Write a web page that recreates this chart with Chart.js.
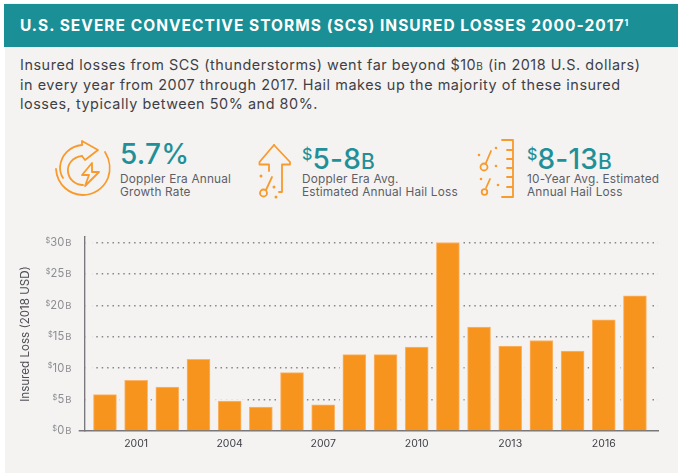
<!DOCTYPE html>
<html><head><meta charset="utf-8">
<script src="https://cdn.jsdelivr.net/npm/chart.js@4"></script>
<style>
html,body{margin:0;padding:0;background:#fff}
#page{position:relative;width:678px;height:474px;overflow:hidden;font-family:"Open Sans",sans-serif}
#panel{position:absolute;left:5px;top:3px;width:673px;height:470px;background:#f4f3f2}
#head{position:absolute;left:4px;top:4px;width:674px;height:43px;background:#1a8f96}
.t{position:absolute;white-space:nowrap}
#title{left:20px;top:16px;color:#fff;font:700 15.5px/20px "Inter";letter-spacing:1.03px}
#title sup{font-size:8.5px;line-height:0;vertical-align:5px;letter-spacing:0}
.body{left:20px;color:#3f3f46;font:400 14.4px/18px "Inter";letter-spacing:.55px}
.big{color:#1f9097;font:500 28px/30px "Inter";letter-spacing:.2px}
.big i{font-style:normal;font-size:16px;vertical-align:9px}
.big b{font-weight:500;font-size:21px}
.sm{color:#5d5e68;font:400 11.8px/13.5px "Inter";letter-spacing:.2px}
svg.ic{position:absolute;fill:none;stroke:#f89a2c;stroke-width:1.8;stroke-linecap:round;stroke-linejoin:round}
svg.ic .d{fill:#f89a2c;stroke:none}
#cv{position:absolute;left:0;top:215px}
</style></head><body>
<div id="page">
<div id="panel"></div><div id="head"></div>
<div class="t" id="title">U.S. SEVERE CONVECTIVE STORMS (SCS) INSURED LOSSES 2000-2017<sup>1</sup></div>
<div class="t body" style="top:56px">Insured losses from SCS (thunderstorms) went far beyond $10<span style="font-size:10px">B</span> (in 2018 U.S. dollars)</div>
<div class="t body" style="top:75.5px">in every year from 2007 through 2017. Hail makes up the majority of these insured</div>
<div class="t body" style="top:94.5px">losses, typically between 50% and 80%.</div>

<svg class="ic" style="left:50px;top:135px" width="70" height="70" viewBox="0 0 70 70">
<path d="M32 10V6L48 15L35 25L32 21"/>
<path d="M32 10C20 11 11 20 10 32C10 36 11 40 13 43"/>
<path d="M32 21C22 22 17 30 18 37C19 45 26 50 33 50"/>
<path d="M55 17C60 25 61 35 58 43C53 55 42 60 33 60C20 60 7 50 6 34"/>
<path d="M42 28L32 40H39L35 51L49 37H42Z"/>
</svg>
<div class="t big" style="left:120px;top:139px">5.7%</div>
<div class="t sm" style="left:120px;top:173px">Doppler Era Annual</div>
<div class="t sm" style="left:120px;top:186px">Growth Rate</div>

<svg class="ic" style="left:250px;top:135px" width="70" height="70" viewBox="0 0 70 70">
<path d="M24 10L9.5 27V29.500H19V36"/><path d="M24 10L40 27V29.500H32V57H29"/>
<path d="M16 55L22 42"/><circle cx="13.500" cy="58" r="3.500"/>
<circle class="d" cx="11" cy="41" r="1.500"/><circle class="d" cx="24" cy="52" r="1.500"/><circle class="d" cx="26" cy="62" r="1.500"/>
</svg>
<div class="t big" style="left:302px;top:139px"><i>$</i>5-8<b>B</b></div>
<div class="t sm" style="left:302px;top:173px">Doppler Era Avg.</div>
<div class="t sm" style="left:302px;top:186px">Estimated Annual Hail Loss</div>

<svg class="ic" style="left:470px;top:135px" width="60" height="70" viewBox="0 0 60 70">
<path d="M32 5H43V62H32M37 15H43M37 24H43M37 33H43M37 42H43M37 52H43"/>
<path d="M21 16L15.500 29"/><circle cx="14" cy="32" r="3.500"/><path d="M20 44L16 53"/><circle cx="14.500" cy="57" r="2.800"/>
<circle class="d" cx="9" cy="20" r="1.300"/><circle class="d" cx="26" cy="13" r="1.300"/><circle class="d" cx="26" cy="31" r="1.300"/><circle class="d" cx="11" cy="44" r="1.300"/><circle class="d" cx="28" cy="50" r="1.300"/>
</svg>
<div class="t big" style="left:527px;top:139px"><i>$</i>8-13<b>B</b></div>
<div class="t sm" style="left:527px;top:173px">10-Year Avg. Estimated</div>
<div class="t sm" style="left:527px;top:186px">Annual Hail Loss</div>

<canvas id="cv" width="678" height="259"></canvas>
</div>
<script>
const years = [2000,2001,2002,2003,2004,2005,2006,2007,2008,2009,2010,2011,2012,2013,2014,2015,2016,2017];
const losses = [5.8,8.05,7.0,11.4,4.75,3.8,9.3,4.15,12.15,12.15,13.35,30,16.55,13.5,14.4,12.7,17.7,21.5];
const yTicks = [0,5,10,15,20,25,30];
const xTicks = [2001,2004,2007,2010,2013,2016];
const axisTitle = 'Insured Loss (2018 USD)';
const bg = '#f4f3f2';

const decor = {
  id:'decor',
  beforeDatasetsDraw(c){
    const g=c.ctx,a=c.chartArea;
    g.save();g.fillStyle=bg;
    g.fillRect(a.left+1,a.top,7,a.bottom-a.top-1);
    c.getDatasetMeta(0).data.forEach(b=>{
      g.fillRect(b.x-b.width/2-3,b.y-2,b.width+6,a.bottom-b.y+1);
    });
    g.restore();
  },
  afterDraw(c){
    const g=c.ctx,s=c.scales.y;
    g.save();g.fillStyle='#8d8d92';g.textBaseline='middle';
    yTicks.forEach(v=>{
      const y=s.getPixelForValue(v);
      g.textAlign='left';g.font='9.5px "Inter"';
      g.fillText('B',65.2,y+0.5);
      g.font='11.2px "Inter"';
      const n=g.measureText(String(v)).width;
      g.textAlign='right';g.font='7.5px "Inter"';
      g.fillText('$',64.2-n,y-2);
    });
    g.restore();
  }
};

new Chart(document.getElementById('cv'),{
  type:'bar',
  data:{datasets:[{
    data:years.map((y,i)=>({x:y,y:losses[i]})),
    backgroundColor:'#f7941e',borderColor:'#fbb56a',borderWidth:{top:1,left:1,right:1,bottom:0},
    barThickness:23,borderSkipped:'bottom'
  }]},
  options:{
    responsive:false,animation:false,
    layout:{autoPadding:false,padding:{left:0,right:20,top:22,bottom:17}},
    plugins:{legend:{display:false},tooltip:{enabled:false}},
    scales:{
      x:{type:'linear',offset:false,min:1999.35,max:2017.74,
        afterBuildTicks(s){s.ticks=xTicks.map(v=>({value:v}))},
        grid:{display:false,drawTicks:false},
        border:{display:true,color:'#77777c',width:1.5},
        ticks:{autoSkip:false,maxRotation:0,color:'#3f3f46',font:{family:'Inter',size:10.5},padding:6.7,callback:v=>String(v)}
      },
      y:{min:0,max:30.87,
        afterBuildTicks(s){s.ticks=yTicks.map(v=>({value:v}))},
        afterFit(s){s.width=84.7},
        grid:{color:c=>c.tick&&c.tick.value>0?'#85858a':'rgba(0,0,0,0)',lineWidth:1.5,
          tickBorderDash:[0,0],tickLength:6,tickColor:c=>c.tick&&c.tick.value===0?'#77777c':'rgba(0,0,0,0)'},
        border:{display:true,color:'#77777c',width:1.5,dash:[1.5,3.9]},
        ticks:{color:'#8d8d92',font:{family:'Inter',size:11.2},padding:14.5,callback:v=>String(v)},
        title:{display:true,text:axisTitle,color:'#4d4d55',font:{family:'Inter',size:11.6},padding:{top:19,bottom:0}}
      }
    }
  },
  plugins:[decor]
});
</script>
</body></html>
